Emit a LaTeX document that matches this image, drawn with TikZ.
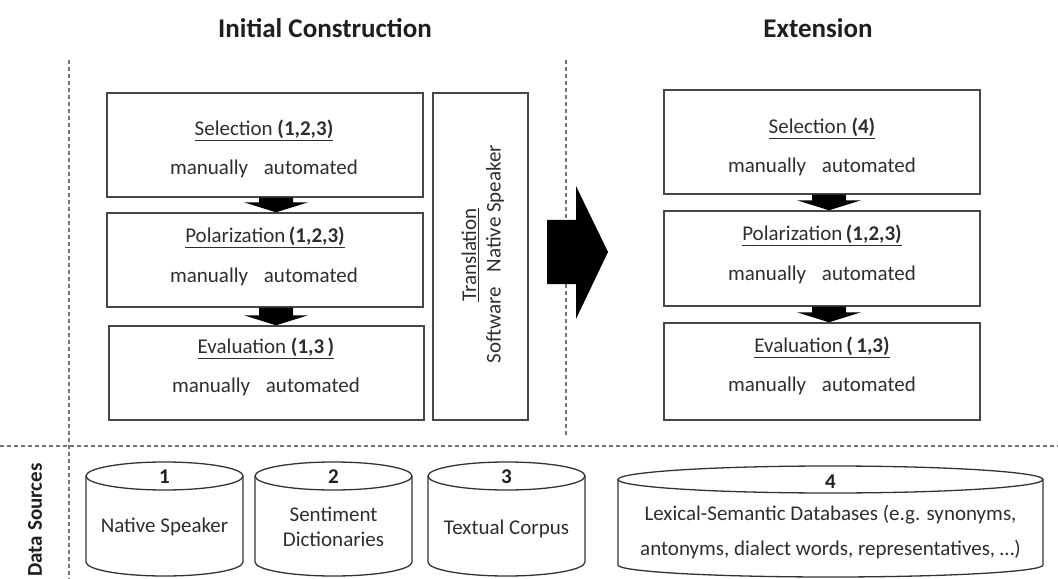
\documentclass[tikz,border=0pt]{standalone}
\usepackage{fontspec}
\setmainfont{Carlito}
\usetikzlibrary{calc}
\newcommand\mydownarr[3]{%
  \fill[blk] let \p1=($(#1.south)+(#3,0)$), \p2=($(#2.north)+(#3,0)$) in
    (\x1-17bp,\y1) -- (\x1+17bp,\y1) -- (\x1+17bp,\y2+10bp) -- (\x1+32bp,\y2+10bp)
    -- (\x1,\y2) -- (\x1-32bp,\y2+10bp) -- (\x1-17bp,\y2+10bp) -- cycle;}
\begin{document}
\begin{tikzpicture}[x=1bp,y=-1bp,
  box/.style={draw=black!72, line width=1.4bp, inner sep=0pt},
  txt/.style={font=\fontsize{21bp}{25bp}\selectfont, text=black!82, inner sep=0pt, align=center},
  btxt/.style={font=\fontsize{21bp}{25bp}\selectfont\bfseries, text=black!88, inner sep=0pt},
  ttl/.style={font=\fontsize{27bp}{32bp}\selectfont\bfseries, text=black!88, inner sep=0pt},
  dashline/.style={draw=black!55, line width=1.1bp, dash pattern=on 4bp off 3bp},
  cyl/.style={draw=black!80, line width=1.3bp},
  blk/.style={fill=black}]
\useasboundingbox (0,0) rectangle (1058,579);

% titles
\node[ttl] (t1) at (325,28) {Initial Construction};
\node[ttl] (t2) at (818,28) {Extension};

% dashed separators
\coordinate (v1a) at (69,60); \coordinate (v1b) at (69,579);
\coordinate (v2a) at (566,60); \coordinate (v2b) at (566,437);
\coordinate (h1a) at (0,446); \coordinate (h1b) at (1058,446);
\draw[dashline] (v1a) -- (v1b);
\draw[dashline] (v2a) -- (v2b);
\draw[dashline] (h1a) -- (h1b);

% left boxes
\node[box, minimum width=316bp, minimum height=104bp] (lsel) at (265,145) {};
\node[box, minimum width=316bp, minimum height=94bp] (lpol) at (265,260) {};
\node[box, minimum width=315bp, minimum height=94bp] (leval) at (266.5,373) {};
\node[box, minimum width=95bp, minimum height=327bp] (trans) at (480.5,256.5) {};

\node[txt] (lselt) at (264,130) {\underline{Selection \textbf{(1,2,3)}}};
\node[txt] (lselm) at (264,169) {manually\hspace{0.75em}automated};
\node[txt] (lpolt) at (265,237) {\underline{Polarization\,\textbf{(1,2,3)}}};
\node[txt] (lpolm) at (264,277) {manually\hspace{0.75em}automated};
\node[txt] (levalt) at (266,348) {\underline{Evaluation \textbf{(1,3\,)}}};
\node[txt] (levalm) at (266,387) {manually\hspace{0.75em}automated};

\node[txt, rotate=90] (transt) at (470,255) {\underline{Translation}};
\node[txt, rotate=90] (transm) at (495,254) {Software\hspace{0.7em}Native Speaker};

% right boxes
\node[box, minimum width=316bp, minimum height=104bp] (rsel) at (822,142) {};
\node[box, minimum width=316bp, minimum height=95bp] (rpol) at (822,258.5) {};
\node[box, minimum width=316bp, minimum height=97bp] (reval) at (822,371.5) {};

\node[txt] (rselt) at (822,128) {\underline{Selection \textbf{(4)}}};
\node[txt] (rselm) at (822,167) {manually\hspace{0.75em}automated};
\node[txt] (rpolt) at (822,235) {\underline{Polarization\,\textbf{(1,2,3)}}};
\node[txt] (rpolm) at (822,275) {manually\hspace{0.75em}automated};
\node[txt] (revalt) at (822,347) {\underline{Evaluation\,\textbf{(\,1,3)}}};
\node[txt] (revalm) at (822,386) {manually\hspace{0.75em}automated};

% down arrows
\mydownarr{lsel}{lpol}{11}
\mydownarr{lpol}{leval}{11}
\mydownarr{rsel}{rpol}{7}
\mydownarr{rpol}{reval}{7}

% big arrow
\coordinate (bigA) at (547,252);
\coordinate (bigB) at (608,252);
\fill[blk] let \p1=(bigA), \p2=(bigB) in
  (\x1,\y1+32bp) -- (\x2-32bp,\y1+32bp) -- (\x2-32bp,\y1+66bp) -- (\x2,\y2)
  -- (\x2-32bp,\y1-67bp) -- (\x2-32bp,\y1-32bp) -- (\x1,\y1-32bp) -- cycle;

% data sources
\node[btxt, rotate=90] (ds) at (35,520) {Data Sources};

% cylinders
\draw[cyl] (164.5,476) ellipse [x radius=78.5bp, y radius=14bp];
\draw[cyl] (86,476) -- (86,562) arc[start angle=180, end angle=360, x radius=78.5bp, y radius=14bp] -- (243,476);
\draw[cyl] (333.5,476) ellipse [x radius=78.5bp, y radius=14bp];
\draw[cyl] (255,476) -- (255,562) arc[start angle=180, end angle=360, x radius=78.5bp, y radius=14bp] -- (412,476);
\draw[cyl] (506.5,476) ellipse [x radius=78.5bp, y radius=14bp];
\draw[cyl] (428,476) -- (428,562) arc[start angle=180, end angle=360, x radius=78.5bp, y radius=14bp] -- (585,476);
\draw[cyl] (830.5,479.5) ellipse [x radius=212.5bp, y radius=13.5bp];
\draw[cyl] (618,479.5) -- (618,565) arc[start angle=180, end angle=360, x radius=212.5bp, y radius=12bp] -- (1043,479.5);

\node[btxt] (c1n) at (164.5,477) {1};
\node[txt] (c1t) at (164.5,527) {Native Speaker};
\node[btxt] (c2n) at (333.5,477) {2};
\node[txt] (c2t) at (333.5,527) {Sentiment\\Dictionaries};
\node[btxt] (c3n) at (506.5,477) {3};
\node[txt] (c3t) at (506.5,529) {Textual Corpus};
\node[btxt] (c4n) at (830.5,482) {4};
\node[txt, font=\fontsize{21bp}{35bp}\selectfont] (c4t) at (830.5,532) {Lexical-Semantic Databases (e.g. synonyms,\\antonyms, dialect words, representatives, \dots)};
\end{tikzpicture}
\end{document}
